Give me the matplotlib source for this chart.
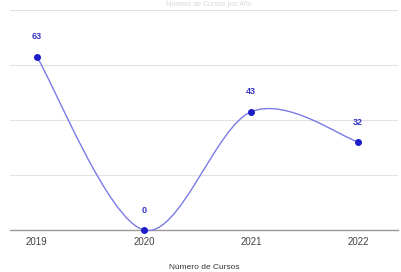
import matplotlib.pyplot as plt
from matplotlib.path import Path
from matplotlib.patches import PathPatch

# 数据
years = [2019, 2020, 2021, 2022]
cursos = [63, 0, 43, 32]
tick_labels = ["2019", "2020", "2021", "2022"]

plt.rcParams["font.family"] = ["Liberation Sans", "DejaVu Sans"]

fig = plt.figure(figsize=(4.01, 2.72), dpi=100)
ax = fig.add_axes([10 / 401, 42 / 272, 388 / 401, 220 / 272])

# 平滑曲线（贝塞尔控制点由数据计算）
k = 1 / 6
verts = [(years[0], cursos[0])]
codes = [Path.MOVETO]
n = len(years)
for i in range(n - 1):
    x0, y0 = years[max(i - 1, 0)], cursos[max(i - 1, 0)]
    x1, y1 = years[i], cursos[i]
    x2, y2 = years[i + 1], cursos[i + 1]
    x3, y3 = years[min(i + 2, n - 1)], cursos[min(i + 2, n - 1)]
    c1 = (x1 + (x2 - x0) * k, y1 + (y2 - y0) * k)
    c2 = (x2 - (x3 - x1) * k, y2 - (y3 - y1) * k)
    verts += [c1, c2, (x2, y2)]
    codes += [Path.CURVE4] * 3
ax.add_patch(PathPatch(Path(verts, codes), fill=False, edgecolor="#7b7be6",
                       linewidth=1.0, zorder=3, clip_on=False))

ax.scatter(years, cursos, s=16, color="#1c1cc8", zorder=4, clip_on=False)
for x, y in zip(years, cursos):
    ax.annotate(str(y), (x, y), xytext=(0, 11), textcoords="offset points",
                ha="center", va="bottom", fontsize=6.5, fontweight="bold",
                color="#3434c4")

ax.set_xlim(2018.75, 2022.37)
ax.set_ylim(0, 80)
ax.set_yticks([0, 20, 40, 60, 80])
ax.set_yticklabels([])
ax.set_xticks(years)
ax.set_xticklabels(tick_labels, fontsize=7, color="#444444")
ax.tick_params(axis="both", length=0, pad=5)
ax.grid(axis="y", color="#e2e2e2", linewidth=0.8)
for s in ["top", "right", "left"]:
    ax.spines[s].set_visible(False)
ax.spines["bottom"].set_color("#9a9a9a")
ax.spines["bottom"].set_linewidth(1.0)
ax.set_xlabel("Número de Cursos", fontsize=6, color="#333333", labelpad=12)

fig.text(0.52, 0.998, "Número de Cursos por Año", ha="center", va="top",
         fontsize=5, color="#d8d8d8")

fig.savefig("out.png", dpi=100)
